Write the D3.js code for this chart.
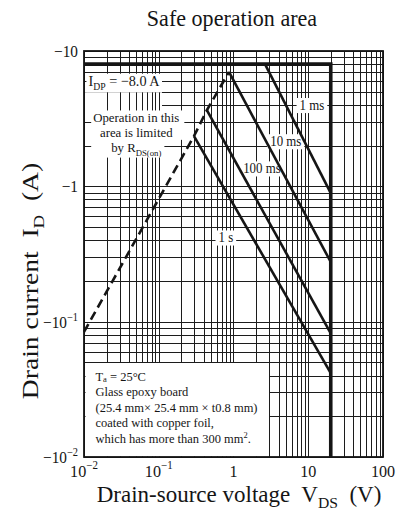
<!DOCTYPE html>
<html>
<head>
<meta charset="utf-8">
<script src="https://cdn.jsdelivr.net/npm/d3@7"></script>
<style>
  html, body { margin: 0; padding: 0; background: #fff; }
  svg { display: block; }
  text { font-family: "Liberation Serif", "Times New Roman", serif; fill: #151515; white-space: pre; }
</style>
</head>
<body>
<svg id="chart" width="411" height="524"></svg>
<script>
// ---- axis ranges ----
const vdsDomain = [0.01, 100];      // V
const idDomain = [-10, -0.01];      // A (P-channel, negative)

// ---- tick labels ----
const xTickValues = [0.01, 0.1, 1, 10, 100];
const xTickBase = ["10", "10", "1", "10", "100"];
const xTickExp = ["−2", "−1", "", "", ""];
const yTickValues = [-10, -1, -0.1, -0.01];
const yTickBase = ["−10", "−1", "−10", "−10"];
const yTickExp = ["", "", "−1", "−2"];

// ---- ratings ----
const idpLimit = -8.0;   // pulsed drain current limit, A
const vdssLimit = 20;    // drain-source voltage limit, V

// ---- pulse-width boundaries: [V_DS, I_D] ----
const pulseNames = ["1 ms", "10 ms", "100 ms", "1 s"];
const pulse1ms = [[2.64, -8.0], [20, -0.89]];
const pulse10ms = [[0.87, -7.0], [20, -0.276]];
const pulse100ms = [[0.44, -3.65], [20, -0.082]];
const pulse1s = [[0.296, -2.35], [20, -0.0417]];
// label anchor for each boundary: [V_DS, I_D]
const pulseLabelAt = [[11.2, -4.0], [5.0, -2.16], [2.4, -1.36], [0.79, -0.42]];

// ---- R_DS(on) limit (dashed) ----
const rdsOnLimit = [[0.01, -0.084], [0.296, -2.35], [0.44, -3.65], [0.87, -7.0]];

// ---- annotation texts ----
const idpLabelAt = [0.0343, -6.0];
const opLabelAt = [0.05, -3.0];
const opLines = [
  [{ t: "Operation in this" }],
  [{ t: "area is limited" }],
  [{ t: "by R" }, { t: "DS(on)", sub: true }]
];
const boardCorner = [3, -0.05];     // note box spans V_DS < 3 V, |I_D| < 0.05 A
const boardLines = [
  [{ t: "T" }, { t: "a", sub: true }, { t: " = 25°C" }],
  [{ t: "Glass epoxy board" }],
  [{ t: "(25.4 mm× 25.4 mm × t0.8 mm)" }],
  [{ t: "coated with copper foil," }],
  [{ t: "which has more than 300 mm" }, { t: "2", sup: true }, { t: "." }]
];

const svg = d3.select("#chart");
const plot = { left: 84, right: 383, top: 51, bottom: 457 };
const x = d3.scaleLog().domain(vdsDomain).range([plot.left, plot.right]);
const y = d3.scaleLog().domain(idDomain).range([plot.top, plot.bottom]);
const ink = "#151515";
const crisp = v => Math.round(v) + 0.5;

// multi-line text with sub/superscripts; returns the text and one box per line
function textBlock(layer, cx, cy, lines, fs, sx, anchor, lh, subShift = 0.28, supShift = 0.42) {
  const t = layer.append("text")
    .attr("transform", `translate(${cx},${cy}) scale(${sx},1)`)
    .attr("text-anchor", anchor || "middle")
    .attr("font-size", fs);
  let shift = 0;
  const spans = lines.map((parts, li) => parts.map((p, pi) => {
    const ts = t.append("tspan").text(p.t);
    const target = p.sub ? fs * subShift : p.sup ? -fs * supShift : 0;
    ts.attr("font-size", (p.sub || p.sup) ? fs * 0.68 : fs);
    if (pi === 0) {
      ts.attr("x", 0);
      const dy = (li === 0 ? 0 : lh) + target - shift;
      if (dy) ts.attr("dy", dy);
    } else if (target !== shift) ts.attr("dy", target - shift);
    shift = target;
    return ts;
  }));
  const m = t.node().getCTM();
  const boxes = spans.map(row => {
    const bs = row.map(s => s.node().getBBox());
    const bx0 = d3.min(bs, b => b.x), bx1 = d3.max(bs, b => b.x + b.width);
    const by0 = d3.min(bs, b => b.y), by1 = d3.max(bs, b => b.y + b.height);
    return { x0: m.a * bx0 + m.e, x1: m.a * bx1 + m.e, y0: m.d * by0 + m.f, y1: m.d * by1 + m.f };
  });
  return { t, boxes };
}
const label = (layer, cx, cy, parts, fs, sx, anchor) =>
  textBlock(layer, cx, cy, [parts], fs, sx, anchor, 0);

const gridH = svg.append("g");
const hMask = svg.append("g");
const gridV = svg.append("g");
const bgLayer = svg.append("g");
const curveLayer = svg.append("g");
const textLayer = svg.append("g");
const whiteRect = (g, x0, y0, x1, y1) => g.append("rect")
  .attr("x", x0).attr("y", y0).attr("width", x1 - x0).attr("height", y1 - y0).attr("fill", "#fff");

// ---- grid ----
gridH.selectAll("line").data(y.ticks()).join("line")
  .attr("x1", plot.left).attr("x2", plot.right)
  .attr("y1", d => crisp(y(d))).attr("y2", d => crisp(y(d)))
  .attr("stroke", "#1c1c1c").attr("stroke-width", 1);
gridV.selectAll("line").data(x.ticks()).join("line")
  .attr("y1", plot.top).attr("y2", plot.bottom)
  .attr("x1", d => crisp(x(d))).attr("x2", d => crisp(x(d)))
  .attr("stroke", "#1c1c1c").attr("stroke-width", 1);

// ---- annotations (text first, backgrounds sized from them) ----
const idp = label(textLayer, x(idpLabelAt[0]), y(idpLabelAt[1]) + 5,
  [{ t: "I" }, { t: "DP", sub: true }, { t: " = −8.0 A" }], 15, 0.95);
const ib = idp.boxes[0];
whiteRect(bgLayer, ib.x0 - 2, ib.y0 + 1, ib.x1 + 2, ib.y1);

const op = textBlock(textLayer, x(opLabelAt[0]), y(opLabelAt[1]), opLines, 13.5, 0.95, "middle", 15);
const [o1, o2, o3] = op.boxes;
const oLeft = Math.min(o1.x0, o2.x0) - 2;
whiteRect(bgLayer, oLeft, o1.y0 + 1, Math.max(o1.x1, o2.x1) + 5, o2.y1);
whiteRect(bgLayer, oLeft, o2.y1 - 2, o3.x1 + 3, o3.y1);
// horizontal rules are cut between the two notes
whiteRect(hMask, plot.left + 1, ib.y1, ib.x1 + 2, o1.y0 + 2);

// pulse-width labels
pulseNames.forEach((n, i) => {
  const b = label(textLayer, x(pulseLabelAt[i][0]), y(pulseLabelAt[i][1]) + 5, [{ t: n }], 15, 0.86).boxes[0];
  whiteRect(bgLayer, b.x0 - 3, b.y0 + 1, b.x1 + 3, b.y1);
});

// mounting-condition note box
const bx0 = crisp(x(vdsDomain[0])) + 1, bx1 = crisp(x(boardCorner[0])) - 0.5;
const by0 = crisp(y(boardCorner[1])) + 0.5, by1 = crisp(y(idDomain[1])) - 1;
whiteRect(bgLayer, bx0, by0, bx1, by1);
textBlock(textLayer, bx0 + 10, by0 + 17.5, boardLines, 13, 0.96, "start", 15.6, 0.15, 0.36);

// ---- curves ----
const line = d3.line().x(d => x(d[0])).y(d => y(d[1]));
[pulse1ms, pulse10ms, pulse100ms, pulse1s].forEach(s => {
  curveLayer.append("path").attr("d", line(s))
    .attr("fill", "none").attr("stroke", ink).attr("stroke-width", 2.6);
});
curveLayer.append("path").attr("d", line(rdsOnLimit))
  .attr("fill", "none").attr("stroke", ink).attr("stroke-width", 2.6)
  .attr("stroke-dasharray", "9,5");
curveLayer.append("path")
  .attr("d", line([[vdsDomain[0], idpLimit], [vdssLimit, idpLimit], [vdssLimit, idDomain[1]]]))
  .attr("fill", "none").attr("stroke", ink).attr("stroke-width", 3.6)
  .attr("stroke-linejoin", "miter");

// ---- frame ----
svg.append("rect").attr("x", plot.left).attr("y", plot.top)
  .attr("width", plot.right - plot.left).attr("height", plot.bottom - plot.top)
  .attr("fill", "none").attr("stroke", ink).attr("stroke-width", 1.8);

// ---- tick labels ----
xTickValues.forEach((v, i) => {
  const parts = [{ t: xTickBase[i] }];
  if (xTickExp[i]) parts.push({ t: xTickExp[i], sup: true });
  label(textLayer, x(v), 476.5, parts, 17, 0.95);
});
yTickValues.forEach((v, i) => {
  const parts = [{ t: yTickBase[i] }];
  if (yTickExp[i]) parts.push({ t: yTickExp[i], sup: true });
  label(textLayer, 78, y(v) + 6, parts, 17, 0.9, "end");
});

// ---- titles ----
label(textLayer, 232, 26, [{ t: "Safe operation area" }], 24, 0.92);
label(textLayer, 239, 501.5,
  [{ t: "Drain-source voltage  V" }, { t: "DS", sub: true }, { t: "  (V)" }], 23, 1.0);
textLayer.append("g").attr("transform", "translate(38,281) rotate(-90)")
  .call(g => label(g, 0, 0, [{ t: "Drain current  I" }, { t: "D", sub: true }, { t: "  (A)" }], 23, 1.2));
</script>
</body>
</html>
